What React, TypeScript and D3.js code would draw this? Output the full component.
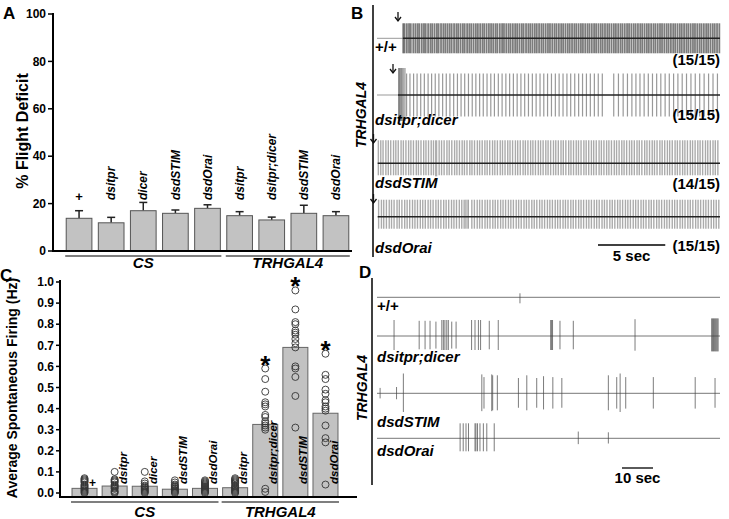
import React from 'react';
import * as d3 from 'd3';

const FONT = 'Liberation Sans, Arial, Helvetica, sans-serif';

// ---------- Panel A / C categories ----------
const genotypes = ['+', 'dsitpr', 'dicer', 'dsdSTIM', 'dsdOrai', 'dsitpr', 'dsitpr;dicer', 'dsdSTIM', 'dsdOrai'];
const groups = ['CS', 'CS', 'CS', 'CS', 'CS', 'TRHGAL4', 'TRHGAL4', 'TRHGAL4', 'TRHGAL4'];
const groupNames = ['CS', 'TRHGAL4'];

// ---------- Panel A data ----------
const flightMean = [13.8, 11.9, 17.0, 15.9, 18.0, 14.9, 13.1, 15.9, 14.9];
const flightErr = [3.2, 2.3, 3.5, 1.4, 1.5, 1.7, 1.2, 3.4, 1.7];
const flightTicks = [0, 20, 40, 60, 80, 100];

// ---------- Panel C data ----------
const firingMean = [0.022, 0.033, 0.032, 0.018, 0.022, 0.025, 0.325, 0.69, 0.378];
const firingPoints = [
  [0.0, 0.005, 0.01, 0.015, 0.02, 0.025, 0.03, 0.035, 0.04, 0.05, 0.055, 0.06, 0.065, 0.07],
  [0.0, 0.005, 0.01, 0.02, 0.025, 0.03, 0.035, 0.04, 0.05, 0.055, 0.06, 0.065, 0.1],
  [0.0, 0.005, 0.01, 0.015, 0.02, 0.025, 0.03, 0.035, 0.045, 0.055, 0.1],
  [0.0, 0.005, 0.01, 0.015, 0.02, 0.025, 0.03, 0.035, 0.04, 0.05, 0.06],
  [0.0, 0.005, 0.01, 0.015, 0.02, 0.025, 0.03, 0.035, 0.04, 0.045, 0.05, 0.055, 0.06],
  [0.0, 0.005, 0.01, 0.015, 0.02, 0.025, 0.03, 0.035, 0.045, 0.05, 0.055, 0.06, 0.065, 0.07],
  [0.005, 0.02, 0.3, 0.31, 0.32, 0.33, 0.34, 0.36, 0.37, 0.41, 0.42, 0.43, 0.48, 0.54, 0.59],
  [0.31, 0.46, 0.55, 0.59, 0.6, 0.69, 0.71, 0.73, 0.75, 0.76, 0.77, 0.8, 0.81, 0.87, 0.96],
  [0.04, 0.24, 0.26, 0.32, 0.39, 0.4, 0.41, 0.43, 0.44, 0.47, 0.49, 0.54, 0.56, 0.66],
];
const firingSig = [false, false, false, false, false, false, true, true, true];
const firingTicks = [0, 0.1, 0.2, 0.3, 0.4, 0.5, 0.6, 0.7, 0.8, 0.9, 1.0];

// ---------- Panel B data (spike times, s) ----------
const traceNamesB = ['+/+', 'dsitpr;dicer', 'dsdSTIM', 'dsdOrai'];
const traceCountsB = ['(15/15)', '(15/15)', '(14/15)', '(15/15)'];
const stimTimesB = [1.93, 1.56, 0.0, 0.0];
const spikesB1 = [1.95, 2.05, 2.22, 2.38, 2.51, 2.7, 2.86, 3.02, 3.15, 3.33, 3.49, 3.62, 3.8, 3.97, 4.11, 4.28, 4.45, 4.58, 4.76, 4.93, 5.08, 5.24, 5.4, 5.55, 5.73, 5.9, 6.04, 6.21, 6.38, 6.52, 6.7, 6.86, 7.01, 7.18, 7.35, 7.5, 7.67, 7.84, 7.98, 8.15, 8.32, 8.48, 8.64, 8.81, 8.95, 9.13, 9.3, 9.44, 9.61, 9.78, 9.93, 10.1, 10.27, 10.42, 10.59, 10.76, 10.9, 11.08, 11.25, 11.4, 11.56, 11.73, 11.88, 12.05, 12.22, 12.37, 12.54, 12.71, 12.86, 13.03, 13.2, 13.35, 13.52, 13.69, 13.84, 14.01, 14.18, 14.33, 14.5, 14.67, 14.82, 14.99, 15.16, 15.31, 15.48, 15.65, 15.8, 15.97, 16.14, 16.29, 16.46, 16.63, 16.78, 16.95, 17.12, 17.27, 17.44, 17.61, 17.76, 17.93, 18.1, 18.25, 18.42, 18.59, 18.74, 18.91, 19.08, 19.23, 19.4, 19.57, 19.72, 19.89, 20.06, 20.21, 20.38, 20.55, 20.7, 20.87, 21.04, 21.19, 21.36, 21.53, 21.68, 21.85, 22.02, 22.17, 22.34, 22.51, 22.66, 22.83, 23.0, 23.15, 23.32, 23.49, 23.64, 23.81, 23.98, 24.13, 24.3, 24.47, 24.62, 24.79, 24.96, 25.11, 25.28, 25.45];
const burstB2 = [1.6, 1.64, 1.68, 1.72, 1.77, 1.82, 1.88, 1.94, 2.01, 2.09];
const spikesB2 = [2.2, 2.45, 2.72, 2.98, 3.25, 3.52, 3.8, 4.06, 4.33, 4.6, 4.88, 5.15, 5.42, 5.7, 5.98, 6.25, 6.52, 6.8, 7.08, 7.35, 7.63, 7.9, 8.18, 8.46, 8.73, 9.02, 9.3, 9.58, 9.86, 10.14, 10.42, 10.7, 10.98, 11.26, 11.55, 11.83, 12.12, 12.4, 12.68, 12.97, 13.26, 13.54, 13.83, 14.12, 14.4, 14.7, 14.99, 15.28, 15.57, 15.86, 16.16, 16.45, 16.75, 17.6, 17.95, 18.3, 18.62, 18.95, 19.25, 19.55, 19.86, 20.17, 20.48, 20.79, 21.1, 21.42, 21.73, 22.05, 22.37, 22.69, 23.01, 23.34, 23.66, 23.99, 24.32, 24.65, 24.98, 25.31];
const spikesB3 = [0.1, 0.28, 0.45, 0.66, 0.84, 1.02, 1.23, 1.4, 1.58, 1.79, 1.96, 2.15, 2.35, 2.52, 2.71, 2.92, 3.08, 3.27, 3.47, 3.64, 3.83, 4.03, 4.2, 4.62, 4.8, 4.99, 5.2, 5.37, 5.56, 5.77, 5.94, 6.13, 6.33, 6.5, 6.69, 6.9, 7.06, 7.25, 7.46, 7.63, 7.82, 8.02, 8.19, 8.38, 8.59, 8.76, 8.95, 9.16, 9.33, 9.52, 9.72, 9.89, 10.08, 10.29, 10.46, 10.65, 10.86, 11.03, 11.22, 11.42, 11.59, 11.78, 11.99, 12.16, 12.35, 12.55, 12.72, 12.91, 13.12, 13.29, 13.48, 13.68, 13.85, 14.04, 14.25, 14.42, 14.61, 14.81, 14.98, 15.17, 15.38, 15.55, 15.74, 15.94, 16.11, 16.3, 16.51, 16.68, 16.87, 17.07, 17.24, 17.43, 17.64, 17.81, 18.0, 18.2, 18.37, 18.56, 18.77, 18.94, 19.13, 19.33, 19.5, 19.69, 19.9, 20.07, 20.26, 20.46, 20.63, 20.82, 21.03, 21.2, 21.39, 21.59, 21.76, 21.95, 22.16, 22.33, 22.52, 22.72, 22.89, 23.08, 23.29, 23.46, 23.65, 23.85, 24.02, 24.21, 24.42, 24.59, 24.78, 24.98, 25.15, 25.34];
const burstB3 = [4.36, 4.44];
const spikesB4 = [0.12, 0.33, 0.5, 0.7, 0.91, 1.08, 1.27, 1.49, 1.66, 1.85, 2.06, 2.24, 2.43, 2.64, 2.82, 3.01, 3.22, 3.4, 3.59, 3.8, 3.98, 4.17, 4.38, 4.56, 4.75, 4.96, 5.14, 5.33, 5.54, 5.72, 5.91, 6.12, 6.3, 6.48, 7.05, 7.24, 7.45, 7.63, 7.82, 8.03, 8.21, 8.4, 8.61, 8.79, 8.98, 9.19, 9.37, 9.56, 9.77, 9.95, 10.14, 10.35, 10.53, 10.72, 10.93, 11.11, 11.3, 11.51, 11.69, 11.88, 12.09, 12.27, 12.46, 12.67, 12.85, 13.04, 13.25, 13.43, 13.62, 13.83, 14.01, 14.2, 14.41, 14.59, 14.78, 14.99, 15.17, 15.36, 15.57, 15.75, 15.94, 16.15, 16.33, 16.52, 16.73, 16.91, 17.1, 17.31, 17.49, 17.68, 17.89, 18.07, 18.26, 18.47, 18.65, 18.84, 19.05, 19.23, 19.42, 19.63, 19.81, 20.0, 20.21, 20.39, 20.58, 20.79, 20.97, 21.16, 21.37, 21.55, 21.74, 21.95, 22.13, 22.32, 22.53, 22.71, 22.9, 23.11, 23.29, 23.48, 23.69, 23.87, 24.06, 24.27, 24.45, 24.64, 24.85, 25.03, 25.22, 25.41];
const burstB4 = [6.6, 6.7, 6.8];
const scaleBarB = [16.43, 21.43];

// ---------- Panel D data (spike times, s, and relative amplitudes) ----------
const traceNamesD = ['+/+', 'dsitpr;dicer', 'dsdSTIM', 'dsdOrai'];
const spikesD1 = [46.1];
const ampD1 = [1];
const spikesD2 = [5.5, 13.6, 15.5, 17.1, 19.0, 20.9, 21.4, 21.9, 22.5, 23.0, 24.1, 25.5, 30.5, 31.6, 32.7, 33.4, 36.2, 39.1, 56.0, 56.3, 56.6, 59.0, 63.3, 83.2, 107.9, 108.2, 108.5, 108.8, 109.1, 109.4, 109.7, 110.0];
const ampD2 = [1, 0.95, 0.95, 0.95, 0.9, 1, 1, 1, 1, 1, 0.9, 0.9, 1, 1, 1, 1, 0.95, 1, 1, 1, 1, 0.95, 0.95, 1.05, 1.1, 1.1, 1.1, 1.1, 1.1, 1.1, 1.1, 1.1];
const spikesD3 = [1.0, 6.3, 8.5, 33.8, 34.5, 37.0, 37.3, 38.8, 45.6, 48.3, 51.5, 53.7, 56.7, 59.6, 74.6, 77.3, 78.4, 80.2, 89.1, 102.6, 109.0];
const ampD3 = [0.3, 0.35, 1.1, 1.05, 0.9, 1.05, 1.0, 1.0, 0.85, 1.0, 0.85, 0.95, 0.9, 0.85, 1.0, 0.9, 1.1, 0.9, 0.9, 0.9, 0.85];
const spikesD4 = [26.8, 27.8, 28.7, 29.5, 31.6, 31.9, 32.4, 33.2, 34.3, 35.4, 37.8, 64.9, 74.6];
const ampD4 = [1, 1, 1, 1, 1, 1, 1, 1, 1, 1, 1, 0.45, 0.4];
const scaleBarD = [79, 89];

const boldItalic = { fontFamily: FONT, fontWeight: 700, fontStyle: 'italic' as const };
const bold = { fontFamily: FONT, fontWeight: 700 };

function groupExtent(x: d3.ScaleBand<number>, name: string): [number, number] {
  const idx = groups.map((g, i) => (g === name ? i : -1)).filter((i) => i >= 0);
  return [(x(idx[0]) as number) - 1, (x(idx[idx.length - 1]) as number) + x.bandwidth() + 1];
}

function Arrow({ x, y0, y1 }: { x: number; y0: number; y1: number }) {
  return (
    <g stroke="#111" strokeWidth={1.3} fill="none">
      <line x1={x} x2={x} y1={y0} y2={y1} />
      <path d={`M${x - 3},${y1 - 4} L${x},${y1} L${x + 3},${y1 - 4}`} />
    </g>
  );
}

export default function App() {
  const xA = d3.scaleBand<number>().domain(d3.range(9)).range([63, 352]).paddingInner(0.2).paddingOuter(0.1);
  const yA = d3.scaleLinear().domain([0, 100]).range([251, 14]);
  const xC = d3.scaleBand<number>().domain(d3.range(9)).range([69, 341]).paddingInner(0.17).paddingOuter(0.1);
  const yC = d3.scaleLinear().domain([0, 1]).range([493, 282]);
  const xB = d3.scaleLinear().domain([0, 25.5]).range([377, 720]);
  const xD = d3.scaleLinear().domain([0, 110.6]).range([377, 720]);

  const bwA = xA.bandwidth();
  const bwC = xC.bandwidth();
  const axisYC = yC(-0.019);

  // Panel B trace layouts
  const bLayout = [
    { y: 38.3, up: 15, down: 15, spikes: spikesB1, burst: [] as number[], bu: 0, bd: 0, col: '#444', op: 0.7, w: 1.8 },
    { y: 95, up: 21.5, down: 21.5, spikes: spikesB2, burst: burstB2, bu: 27, bd: 26, col: '#777', op: 0.75, w: 1.2 },
    { y: 163.3, up: 23, down: 12, spikes: spikesB3, burst: burstB3, bu: 23, bd: 13, col: '#888', op: 0.7, w: 1.4 },
    { y: 216.7, up: 17, down: 12, spikes: spikesB4, burst: burstB4, bu: 17, bd: 12, col: '#888', op: 0.7, w: 1.4 },
  ];
  const bLabelY = [52, 125, 188, 253];
  const bCountY = [65, 120, 189, 251];
  const bArrows = [
    { x: 398, y0: 12, y1: 21 },
    { x: 393, y0: 64, y1: 73 },
    { x: 373.5, y0: 134, y1: 143 },
    { x: 373.5, y0: 194, y1: 203 },
  ];

  // Panel D trace layouts
  const dLayout = [
    { y: 297.3, up: 4, down: 6, spikes: spikesD1, amp: ampD1 },
    { y: 336, up: 16, down: 14, spikes: spikesD2, amp: ampD2 },
    { y: 393.3, up: 18, down: 17, spikes: spikesD3, amp: ampD3 },
    { y: 438.3, up: 15, down: 13, spikes: spikesD4, amp: ampD4 },
  ];
  const dLabelY = [311, 362, 427, 456];

  return (
    <svg width={729} height={519} style={{ position: 'absolute', left: 0, top: 0, background: '#fff' }}>
      <rect width={729} height={519} fill="#fff" />
      {/* ================= Panel A ================= */}
      <text x={3} y={19} fontSize={17} {...bold}>A</text>
      {flightTicks.map((t) => (
        <g key={`at${t}`}>
          <line x1={48} x2={53} y1={yA(t)} y2={yA(t)} stroke="#000" strokeWidth={1.5} />
          <text x={46} y={yA(t)} dy="0.35em" textAnchor="end" fontSize={12} {...bold}>{t}</text>
        </g>
      ))}
      <text transform={`translate(22,131) rotate(-90)`} textAnchor="middle" dy="0.35em" fontSize={16} {...bold}>% Flight Deficit</text>
      {flightMean.map((v, i) => {
        const x = xA(i) as number;
        const cx = x + bwA / 2;
        return (
          <g key={`ab${i}`}>
            <line x1={cx} x2={cx} y1={yA(v)} y2={yA(v + flightErr[i])} stroke="#222" strokeWidth={1.5} />
            <line x1={cx - 4} x2={cx + 4} y1={yA(v + flightErr[i])} y2={yA(v + flightErr[i])} stroke="#222" strokeWidth={1.5} />
            <rect x={x} y={yA(v)} width={bwA} height={yA(0) - yA(v)} fill="#c2c2c2" stroke="#555" strokeWidth={1} />
            {genotypes[i] === '+' ? (
              <text x={cx} y={201} textAnchor="middle" fontSize={13} {...bold}>+</text>
            ) : (
              <text transform={`translate(${cx},200) rotate(-90)`} dy="0.35em" fontSize={12} {...boldItalic}>{genotypes[i]}</text>
            )}
          </g>
        );
      })}
      <line x1={53} x2={53} y1={13} y2={252} stroke="#000" strokeWidth={2} />
      <line x1={52} x2={352} y1={251} y2={251} stroke="#000" strokeWidth={2} />
      {groupNames.map((g) => {
        const [a, b] = groupExtent(xA, g);
        return (
          <g key={`ag${g}`}>
            <line x1={a} x2={b} y1={256} y2={256} stroke="#555" strokeWidth={1.5} />
            <text x={(a + b) / 2} y={268} textAnchor="middle" fontSize={15} {...boldItalic}>{g}</text>
          </g>
        );
      })}

      {/* ================= Panel B ================= */}
      <text x={351} y={19} fontSize={17} {...bold}>B</text>
      <text transform={`translate(361,115) rotate(-90)`} textAnchor="middle" dy="0.35em" fontSize={14} {...boldItalic}>TRHGAL4</text>
      <line x1={373} x2={373} y1={5} y2={257} stroke="#000" strokeWidth={1.5} />
      {bLayout.map((tr, k) => (
        <g key={`bt${k}`}>
          {stimTimesB[k] > 0.2 && (
            <line x1={xB(0)} x2={xB(stimTimesB[k])} y1={tr.y} y2={tr.y} stroke="#999" strokeWidth={1} />
          )}
          {tr.spikes.map((t, j) => (
            <line key={j} x1={xB(t)} x2={xB(t)} y1={tr.y - tr.up} y2={tr.y + tr.down} stroke={tr.col} strokeOpacity={tr.op} strokeWidth={tr.w} />
          ))}
          {tr.burst.map((t, j) => (
            <line key={`b${j}`} x1={xB(t)} x2={xB(t)} y1={tr.y - tr.bu} y2={tr.y + tr.bd} stroke="#555" strokeOpacity={0.55} strokeWidth={1} />
          ))}
          <line x1={xB(Math.max(stimTimesB[k], 0.05))} x2={xB(25.5)} y1={tr.y} y2={tr.y} stroke="#222" strokeWidth={1.6} />
          <text x={375} y={bLabelY[k]} fontSize={15} {...(k === 0 ? bold : boldItalic)}>{traceNamesB[k]}</text>
          <text x={720} y={bCountY[k]} textAnchor="end" fontSize={15} {...bold}>{traceCountsB[k]}</text>
          <Arrow {...bArrows[k]} />
        </g>
      ))}
      <line x1={xB(scaleBarB[0])} x2={xB(scaleBarB[1])} y1={245} y2={245} stroke="#000" strokeWidth={1.3} />
      <text x={(xB(scaleBarB[0]) + xB(scaleBarB[1])) / 2} y={261} textAnchor="middle" fontSize={15} {...bold}>5 sec</text>

      {/* ================= Panel C ================= */}
      <text x={0} y={281} fontSize={17} {...bold}>C</text>
      {firingTicks.map((t) => (
        <g key={`ct${t}`}>
          <line x1={56} x2={60} y1={yC(t)} y2={yC(t)} stroke="#000" strokeWidth={1.5} />
          <text x={54} y={yC(t)} dy="0.35em" textAnchor="end" fontSize={12} {...bold}>{t.toFixed(1)}</text>
        </g>
      ))}
      <text transform={`translate(12,388) rotate(-90)`} textAnchor="middle" dy="0.35em" fontSize={14} {...bold}>Average Spontaneous Firing (Hz)</text>
      {firingMean.map((v, i) => {
        const x = xC(i) as number;
        const cx = x + bwC / 2;
        const maxP = d3.max(firingPoints[i]) as number;
        return (
          <g key={`cb${i}`}>
            <rect x={x} y={yC(v)} width={bwC} height={axisYC - yC(v)} fill="#c2c2c2" stroke="#666" strokeWidth={1} />
            {firingPoints[i].map((p, j) => (
              <circle key={j} cx={cx} cy={yC(p)} r={3.5} fill="none" stroke="#333" strokeWidth={0.9} />
            ))}
            {genotypes[i] === '+' ? (
              <text x={cx + 8} y={487} textAnchor="middle" fontSize={12} {...bold}>+</text>
            ) : (
              <text transform={`translate(${cx + 8},484) rotate(-90)`} dy="0.35em" fontSize={11.5} {...boldItalic}>{genotypes[i]}</text>
            )}
            {firingSig[i] && (
              <text x={cx} y={yC(maxP) - 10 + 15} textAnchor="middle" fontSize={26} {...bold}>*</text>
            )}
          </g>
        );
      })}
      <line x1={60} x2={60} y1={280} y2={498} stroke="#000" strokeWidth={2} />
      <line x1={59} x2={357} y1={axisYC} y2={axisYC} stroke="#000" strokeWidth={2} />
      {groupNames.map((g) => {
        const [a, b] = groupExtent(xC, g);
        return (
          <g key={`cg${g}`}>
            <line x1={a} x2={b} y1={502} y2={502} stroke="#555" strokeWidth={1.5} />
            <text x={(a + b) / 2} y={517} textAnchor="middle" fontSize={15} {...boldItalic}>{g}</text>
          </g>
        );
      })}

      {/* ================= Panel D ================= */}
      <text x={359} y={278} fontSize={17} {...bold}>D</text>
      <text transform={`translate(362,388) rotate(-90)`} textAnchor="middle" dy="0.35em" fontSize={14} {...boldItalic}>TRHGAL4</text>
      <line x1={372} x2={372} y1={278} y2={485} stroke="#000" strokeWidth={1.5} />
      {dLayout.map((tr, k) => (
        <g key={`dt${k}`}>
          <line x1={xD(0)} x2={xD(110.6)} y1={tr.y} y2={tr.y} stroke="#777" strokeWidth={1} />
          {tr.spikes.map((t, j) => (
            <line key={j} x1={xD(t)} x2={xD(t)} y1={tr.y - tr.up * tr.amp[j]} y2={tr.y + tr.down * tr.amp[j]} stroke="#444" strokeOpacity={0.7} strokeWidth={1} />
          ))}
          <text x={377} y={dLabelY[k]} fontSize={15} {...(k === 0 ? bold : boldItalic)}>{traceNamesD[k]}</text>
        </g>
      ))}
      <line x1={xD(scaleBarD[0])} x2={xD(scaleBarD[1])} y1={468} y2={468} stroke="#000" strokeWidth={1.3} />
      <text x={(xD(scaleBarD[0]) + xD(scaleBarD[1])) / 2} y={483} textAnchor="middle" fontSize={15} {...bold}>10 sec</text>
    </svg>
  );
}
